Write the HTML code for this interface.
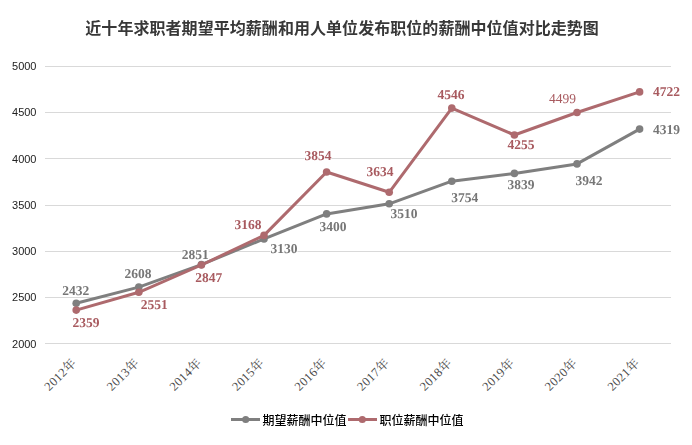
<!DOCTYPE html>
<html><head><meta charset="utf-8"><style>
html,body{margin:0;padding:0;background:#fff;}
svg{display:block;}
.ax{filter:opacity(0.999);font-family:"Liberation Sans",sans-serif;font-size:11px;fill:#222;text-anchor:end;}
.xl{font-family:"Liberation Serif","Noto Serif CJK SC",serif;font-size:12.5px;fill:#4a4a4a;text-anchor:end;letter-spacing:0.4px;}
.dl{filter:opacity(0.999);font-family:"Liberation Serif",serif;font-size:13.5px;text-anchor:middle;text-rendering:geometricPrecision;}
.dl.b{font-weight:bold;}
.lg{filter:opacity(0.999);font-family:"Liberation Sans","Noto Sans CJK SC",sans-serif;font-size:12px;font-weight:500;fill:#000;}
.tt{filter:opacity(0.999);font-family:"Liberation Sans","Noto Sans CJK SC",sans-serif;font-size:16px;font-weight:bold;fill:#383838;letter-spacing:0.05px;}
</style></head><body>
<svg width="692" height="445" viewBox="0 0 692 445">
<rect width="692" height="445" fill="#fff"/>
<line x1="45" y1="343.5" x2="671" y2="343.5" stroke="#d9d9d9" stroke-width="1"/>
<text x="36.5" y="348" class="ax">2000</text>
<line x1="45" y1="297.5" x2="671" y2="297.5" stroke="#d9d9d9" stroke-width="1"/>
<text x="36.5" y="301" class="ax">2500</text>
<line x1="45" y1="251.5" x2="671" y2="251.5" stroke="#d9d9d9" stroke-width="1"/>
<text x="36.5" y="255" class="ax">3000</text>
<line x1="45" y1="205.5" x2="671" y2="205.5" stroke="#d9d9d9" stroke-width="1"/>
<text x="36.5" y="209" class="ax">3500</text>
<line x1="45" y1="158.5" x2="671" y2="158.5" stroke="#d9d9d9" stroke-width="1"/>
<text x="36.5" y="163" class="ax">4000</text>
<line x1="45" y1="112.5" x2="671" y2="112.5" stroke="#d9d9d9" stroke-width="1"/>
<text x="36.5" y="116" class="ax">4500</text>
<line x1="45" y1="66.5" x2="671" y2="66.5" stroke="#d9d9d9" stroke-width="1"/>
<text x="36.5" y="70" class="ax">5000</text>
<text transform="translate(77.20,363.6) rotate(-45)" class="xl">2012年</text>
<text transform="translate(139.77,363.6) rotate(-45)" class="xl">2013年</text>
<text transform="translate(202.34,363.6) rotate(-45)" class="xl">2014年</text>
<text transform="translate(264.91,363.6) rotate(-45)" class="xl">2015年</text>
<text transform="translate(327.48,363.6) rotate(-45)" class="xl">2016年</text>
<text transform="translate(390.05,363.6) rotate(-45)" class="xl">2017年</text>
<text transform="translate(452.62,363.6) rotate(-45)" class="xl">2018年</text>
<text transform="translate(515.19,363.6) rotate(-45)" class="xl">2019年</text>
<text transform="translate(577.76,363.6) rotate(-45)" class="xl">2020年</text>
<text transform="translate(640.33,363.6) rotate(-45)" class="xl">2021年</text>
<polyline points="76.2,303.3 138.8,287.1 201.4,264.6 264.0,238.9 326.6,213.9 389.2,203.8 451.8,181.2 514.4,173.4 577.0,163.9 639.6,129.1" fill="none" stroke="#7f7f7f" stroke-width="3" stroke-linejoin="round" stroke-linecap="round"/><circle cx="76.2" cy="303.3" r="3.8" fill="#7f7f7f"/><circle cx="138.8" cy="287.1" r="3.8" fill="#7f7f7f"/><circle cx="201.4" cy="264.6" r="3.8" fill="#7f7f7f"/><circle cx="264.0" cy="238.9" r="3.8" fill="#7f7f7f"/><circle cx="326.6" cy="213.9" r="3.8" fill="#7f7f7f"/><circle cx="389.2" cy="203.8" r="3.8" fill="#7f7f7f"/><circle cx="451.8" cy="181.2" r="3.8" fill="#7f7f7f"/><circle cx="514.4" cy="173.4" r="3.8" fill="#7f7f7f"/><circle cx="577.0" cy="163.9" r="3.8" fill="#7f7f7f"/><circle cx="639.6" cy="129.1" r="3.8" fill="#7f7f7f"/>
<polyline points="76.2,310.1 138.8,292.3 201.4,265.0 264.0,235.4 326.6,172.0 389.2,192.3 451.8,108.1 514.4,135.0 577.0,112.5 639.6,91.9" fill="none" stroke="#ae6a6e" stroke-width="3" stroke-linejoin="round" stroke-linecap="round"/><circle cx="76.2" cy="310.1" r="3.8" fill="#ae6a6e"/><circle cx="138.8" cy="292.3" r="3.8" fill="#ae6a6e"/><circle cx="201.4" cy="265.0" r="3.8" fill="#ae6a6e"/><circle cx="264.0" cy="235.4" r="3.8" fill="#ae6a6e"/><circle cx="326.6" cy="172.0" r="3.8" fill="#ae6a6e"/><circle cx="389.2" cy="192.3" r="3.8" fill="#ae6a6e"/><circle cx="451.8" cy="108.1" r="3.8" fill="#ae6a6e"/><circle cx="514.4" cy="135.0" r="3.8" fill="#ae6a6e"/><circle cx="577.0" cy="112.5" r="3.8" fill="#ae6a6e"/><circle cx="639.6" cy="91.9" r="3.8" fill="#ae6a6e"/>
<rect x="62.3" y="285.3" width="27" height="10.5" fill="#fff"/>
<rect x="124.6" y="268.2" width="27" height="10.5" fill="#fff"/>
<rect x="181.8" y="249.2" width="27" height="10.5" fill="#fff"/>
<rect x="270.5" y="243.2" width="27" height="10.5" fill="#fff"/>
<rect x="319.5" y="221.4" width="27" height="10.5" fill="#fff"/>
<rect x="390.6" y="208.1" width="27" height="10.5" fill="#fff"/>
<rect x="451.4" y="192.5" width="27" height="10.5" fill="#fff"/>
<rect x="507.4" y="179.5" width="27" height="10.5" fill="#fff"/>
<rect x="575.5" y="175.4" width="27" height="10.5" fill="#fff"/>
<rect x="653.1" y="124.5" width="27" height="10.5" fill="#fff"/>
<rect x="72.4" y="317.8" width="27" height="10.5" fill="#fff"/>
<rect x="140.8" y="299.9" width="27" height="10.5" fill="#fff"/>
<rect x="195.3" y="272.5" width="27" height="10.5" fill="#fff"/>
<rect x="234.4" y="219.3" width="27" height="10.5" fill="#fff"/>
<rect x="304.5" y="150.7" width="27" height="10.5" fill="#fff"/>
<rect x="366.6" y="166.6" width="27" height="10.5" fill="#fff"/>
<rect x="437.5" y="89.3" width="27" height="10.5" fill="#fff"/>
<rect x="507.4" y="139.3" width="27" height="10.5" fill="#fff"/>
<rect x="549.1" y="93.7" width="27" height="10.5" fill="#fff"/>
<rect x="653.1" y="86.4" width="27" height="10.5" fill="#fff"/>
<text transform="translate(75.8 294.8) scale(1 1.0)" class="dl b" fill="#767676">2432</text>
<text transform="translate(138.05 277.7) scale(1 1.0)" class="dl b" fill="#767676">2608</text>
<text transform="translate(195.35 258.7) scale(1 1.0)" class="dl b" fill="#767676">2851</text>
<text transform="translate(284 252.7) scale(1 1.0)" class="dl b" fill="#767676">3130</text>
<text transform="translate(333 230.9) scale(1 1.0)" class="dl b" fill="#767676">3400</text>
<text transform="translate(404.1 217.6) scale(1 1.0)" class="dl b" fill="#767676">3510</text>
<text transform="translate(464.85 202) scale(1 1.0)" class="dl b" fill="#767676">3754</text>
<text transform="translate(520.9 189) scale(1 1.0)" class="dl b" fill="#767676">3839</text>
<text transform="translate(589 184.9) scale(1 1.0)" class="dl b" fill="#767676">3942</text>
<text transform="translate(666.6 134) scale(1 1.0)" class="dl b" fill="#767676">4319</text>
<text transform="translate(85.9 327.3) scale(1 1.0)" class="dl b" fill="#a85a5f">2359</text>
<text transform="translate(154.3 309.4) scale(1 1.0)" class="dl b" fill="#a85a5f">2551</text>
<text transform="translate(208.8 282) scale(1 1.0)" class="dl b" fill="#a85a5f">2847</text>
<text transform="translate(247.9 228.8) scale(1 1.0)" class="dl b" fill="#a85a5f">3168</text>
<text transform="translate(318 160.2) scale(1 1.0)" class="dl b" fill="#a85a5f">3854</text>
<text transform="translate(380.1 176.1) scale(1 1.0)" class="dl b" fill="#a85a5f">3634</text>
<text transform="translate(451 98.8) scale(1 1.0)" class="dl b" fill="#a85a5f">4546</text>
<text transform="translate(520.9 148.8) scale(1 1.0)" class="dl b" fill="#a85a5f">4255</text>
<text transform="translate(562.6 103.2) scale(1 1.0)" class="dl" fill="#a85a5f">4499</text>
<text transform="translate(666.6 95.9) scale(1 1.0)" class="dl b" fill="#a85a5f">4722</text>
<line x1="231" y1="419.5" x2="260" y2="419.5" stroke="#7f7f7f" stroke-width="3"/><circle cx="245.7" cy="419.5" r="3.6" fill="#7f7f7f"/>
<text x="262.5" y="424.5" class="lg">期望薪酬中位值</text>
<line x1="348" y1="419.5" x2="377" y2="419.5" stroke="#ae6a6e" stroke-width="3"/><circle cx="362.3" cy="419.5" r="3.6" fill="#ae6a6e"/>
<text x="379.5" y="424.5" class="lg">职位薪酬中位值</text>
<text x="85.3" y="33.5" class="tt">近十年求职者期望平均薪酬和用人单位发布职位的薪酬中位值对比走势图</text>
</svg>
</body></html>
